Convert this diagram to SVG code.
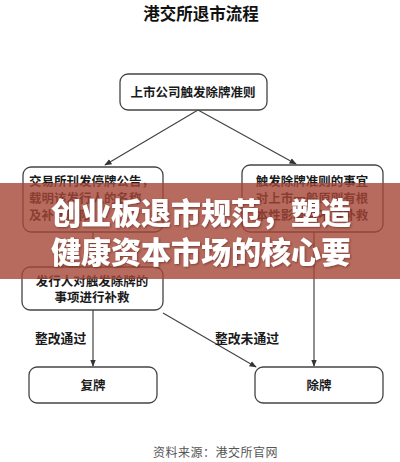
<svg xmlns="http://www.w3.org/2000/svg" width="400" height="462" viewBox="0 0 400 462">
<style>
.box{fill:#fff;stroke:#444;stroke-width:1.3}
.t{font-family:"Noto Sans CJK SC","Noto Sans",sans-serif;font-size:12.5px;font-weight:700;fill:#1a1a1a}
.lbl{font-family:"Noto Sans CJK SC","Noto Sans",sans-serif;font-size:12.8px;font-weight:700;fill:#1a1a1a}
.c{stroke:#444;stroke-width:1.2;fill:none;marker-end:url(#ah)}
.ban{font-family:"Noto Sans CJK SC","Noto Sans",sans-serif;font-size:30px;font-weight:900;fill:#fff}
</style>
<defs>
<marker id="ah" viewBox="0 0 10 10" refX="9" refY="5" markerWidth="6" markerHeight="6" orient="auto-start-reverse">
<path d="M0,1 L10,5 L0,9 z" fill="#333"/>
</marker>
<filter id="sh" x="-10%" y="-20%" width="120%" height="140%">
<feDropShadow dx="1" dy="1" stdDeviation="1" flood-color="#5a1f16" flood-opacity="0.6"/>
</filter>
</defs>
<rect width="400" height="462" fill="#fff"/>
<text x="201" y="20" text-anchor="middle" font-family="Noto Sans CJK SC, sans-serif" font-size="16.5" font-weight="700" fill="#111">港交所退市流程</text>

<g id="connectors">
<line class="c" x1="198" y1="110" x2="105" y2="165"/>
<line class="c" x1="198" y1="110" x2="296" y2="164"/>
<line class="c" x1="93" y1="232" x2="93" y2="266"/>
<line class="c" x1="93" y1="310" x2="93" y2="366"/>
<line class="c" x1="314" y1="232" x2="314" y2="366"/>
<line class="c" x1="163" y1="313" x2="256" y2="367"/>
</g>

<g id="n-top">
<rect class="box" x="120" y="74" width="147" height="36" rx="8"/>
<text class="t" x="193" y="97" text-anchor="middle">上市公司触发除牌准则</text>
</g>
<g id="n-left">
<rect class="box" x="23" y="167" width="140" height="65" rx="8"/>
<text class="t" x="29" y="186">交易所刊发停牌公告，</text>
<text class="t" x="29" y="203">载明该发行人的名称</text>
<text class="t" x="29" y="220">及补救期限</text>
</g>
<g id="n-right">
<rect class="box" x="242" y="165" width="141" height="67" rx="8"/>
<text class="t" x="312" y="186" text-anchor="middle">触发除牌准则的事宜</text>
<text class="t" x="312" y="203" text-anchor="middle">对上市一般原则有根</text>
<text class="t" x="312" y="220" text-anchor="middle">本性影响且不可补救</text>
</g>
<g id="n-fix">
<rect class="box" x="22" y="267" width="141" height="43" rx="8"/>
<text class="t" x="92" y="286" text-anchor="middle">发行人对触发除牌的</text>
<text class="t" x="92" y="302" text-anchor="middle">事项进行补救</text>
</g>
<g id="n-resume">
<rect class="box" x="29" y="367" width="128" height="36" rx="8"/>
<text class="t" x="93" y="390" text-anchor="middle">复牌</text>
</g>
<g id="n-delist">
<rect class="box" x="255" y="367" width="128" height="36" rx="8"/>
<text class="t" x="319" y="390" text-anchor="middle">除牌</text>
</g>
<text class="lbl" x="35" y="343">整改通过</text>
<text class="lbl" x="215" y="343">整改未通过</text>
<text x="153" y="457" font-family="Noto Sans CJK SC, sans-serif" font-size="12" fill="#555" letter-spacing="0.5">资料来源：港交所官网</text>

<rect x="0" y="183" width="400" height="96" fill="rgb(165,70,55)" opacity="0.8"/>
<g filter="url(#sh)">
<text class="ban" x="51" y="224">创业板退市规范，塑造</text>
<text class="ban" x="51" y="263">健康资本市场的核心要</text>
</g>
</svg>
